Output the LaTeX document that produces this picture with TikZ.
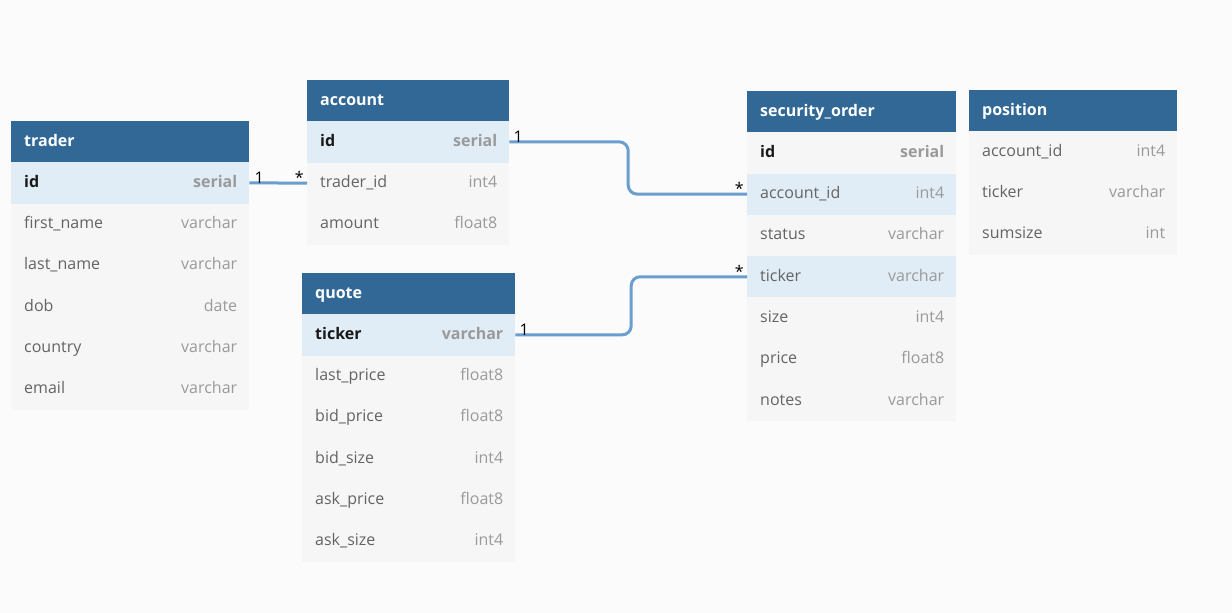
\documentclass[tikz,border=0pt]{standalone}
\usepackage{fontspec}
\setmainfont{Open Sans}
\usetikzlibrary{calc}
\definecolor{bgc}{HTML}{FBFBFB}
\definecolor{hdrc}{HTML}{316896}
\definecolor{hlc}{HTML}{E0EDF6}
\definecolor{rowc}{HTML}{F6F6F6}
\definecolor{namec}{HTML}{646464}
\definecolor{typec}{HTML}{9A9A9A}
\definecolor{relc}{HTML}{6A9ECE}
\tikzset{
  fixedtext/.style={text height=12pt, text depth=3pt, inner sep=0pt},
  hdrbox/.style={fill=hdrc, draw=none, minimum height=41pt, inner sep=0pt, anchor=north west},
  hdrtext/.style={fixedtext, text=white, font=\fontsize{16}{18}\selectfont\bfseries, anchor=west},
  rowbox/.style={draw=none, minimum height=41.3pt, inner sep=0pt, anchor=north west},
  nametext/.style={fixedtext, text=namec, font=\fontsize{16}{18}\selectfont, anchor=west},
  typetext/.style={fixedtext, text=typec, font=\fontsize{16}{18}\selectfont, anchor=east},
  pknametext/.style={fixedtext, text=black!90, font=\fontsize{16}{18}\selectfont\bfseries, anchor=west},
  pktypetext/.style={fixedtext, text=typec, font=\fontsize{16}{18}\selectfont\bfseries, anchor=east},
  rel/.style={draw=relc, line width=3pt, rounded corners=9pt},
  card/.style={text=black, font=\fontsize{16}{18}\selectfont, inner sep=0pt},
}
% header: name, x, y, width, title
\newcommand{\thdr}[5]{%
  \node[hdrbox, minimum width=#4pt] (#1) at (#2,#3) {};
  \node[hdrtext] (#1-title) at ([xshift=13pt]#1.west) {#5};}
% row: node name, x, y, width, fill, namestyle, typestyle, colname, type
\newcommand{\trow}[9]{%
  \node[rowbox, fill=#5, minimum width=#4pt] (#1) at (#2,#3) {};
  \node[#6] (#1-n) at ([xshift=13pt]#1.west) {#8};
  \node[#7] (#1-t) at ([xshift=-12pt]#1.east) {#9};}
\begin{document}
\begin{tikzpicture}[x=1pt,y=-1pt]
\useasboundingbox (0,0) rectangle (1232,613);
\fill[bgc] (0,0) rectangle (1232,613);

% trader
\thdr{trader}{11}{121}{238}{trader}
\trow{trader-id}{11}{162}{238}{hlc}{pknametext}{pktypetext}{id}{serial}
\trow{trader-first}{11}{203.3}{238}{rowc}{nametext}{typetext}{first\_name}{varchar}
\trow{trader-last}{11}{244.6}{238}{rowc}{nametext}{typetext}{last\_name}{varchar}
\trow{trader-dob}{11}{285.9}{238}{rowc}{nametext}{typetext}{dob}{date}
\trow{trader-country}{11}{327.2}{238}{rowc}{nametext}{typetext}{country}{varchar}
\trow{trader-email}{11}{368.5}{238}{rowc}{nametext}{typetext}{email}{varchar}

% account
\thdr{account}{307}{80}{202}{account}
\trow{account-id}{307}{121}{202}{hlc}{pknametext}{pktypetext}{id}{serial}
\trow{account-trader}{307}{162.3}{202}{rowc}{nametext}{typetext}{trader\_id}{int4}
\trow{account-amount}{307}{203.6}{202}{rowc}{nametext}{typetext}{amount}{float8}

% quote
\thdr{quote}{302}{273}{213}{quote}
\trow{quote-ticker}{302}{314}{213}{hlc}{pknametext}{pktypetext}{ticker}{varchar}
\trow{quote-last}{302}{355.3}{213}{rowc}{nametext}{typetext}{last\_price}{float8}
\trow{quote-bidp}{302}{396.6}{213}{rowc}{nametext}{typetext}{bid\_price}{float8}
\trow{quote-bids}{302}{437.9}{213}{rowc}{nametext}{typetext}{bid\_size}{int4}
\trow{quote-askp}{302}{479.2}{213}{rowc}{nametext}{typetext}{ask\_price}{float8}
\trow{quote-asks}{302}{520.5}{213}{rowc}{nametext}{typetext}{ask\_size}{int4}

% security_order
\thdr{so}{747}{91}{209}{security\_order}
\trow{so-id}{747}{132}{209}{rowc}{pknametext}{pktypetext}{id}{serial}
\trow{so-account}{747}{173.3}{209}{hlc}{nametext}{typetext}{account\_id}{int4}
\trow{so-status}{747}{214.6}{209}{rowc}{nametext}{typetext}{status}{varchar}
\trow{so-ticker}{747}{255.9}{209}{hlc}{nametext}{typetext}{ticker}{varchar}
\trow{so-size}{747}{297.2}{209}{rowc}{nametext}{typetext}{size}{int4}
\trow{so-price}{747}{338.5}{209}{rowc}{nametext}{typetext}{price}{float8}
\trow{so-notes}{747}{379.8}{209}{rowc}{nametext}{typetext}{notes}{varchar}

% position
\thdr{pos}{969}{90}{208}{position}
\trow{pos-account}{969}{131}{208}{rowc}{nametext}{typetext}{account\_id}{int4}
\trow{pos-ticker}{969}{172.3}{208}{rowc}{nametext}{typetext}{ticker}{varchar}
\trow{pos-sum}{969}{213.6}{208}{rowc}{nametext}{typetext}{sumsize}{int}

% relations
\draw[rel] (trader-id.east) -- (account-trader.west);
\node[card, anchor=south west] (c1a) at ([xshift=5pt,yshift=-1pt]trader-id.east) {1};
\node[card, anchor=south east] (c1b) at ([xshift=-3pt,yshift=-1pt]account-trader.west) {*};

\coordinate (m2) at ($(account-id.east)!0.5!(so-account.west)$);
\draw[rel] (account-id.east) -| (m2) |- (so-account.west);
\node[card, anchor=south west] (c2a) at ([xshift=4pt,yshift=-1pt]account-id.east) {1};
\node[card, anchor=south east] (c2b) at ([xshift=-3pt,yshift=-1pt]so-account.west) {*};

\coordinate (m3) at ($(quote-ticker.east)!0.5!(so-ticker.west)$);
\draw[rel] (quote-ticker.east) -| (m3) |- (so-ticker.west);
\node[card, anchor=south west] (c3a) at ([xshift=4pt,yshift=-1pt]quote-ticker.east) {1};
\node[card, anchor=south east] (c3b) at ([xshift=-3pt,yshift=-1pt]so-ticker.west) {*};
\end{tikzpicture}
\end{document}
